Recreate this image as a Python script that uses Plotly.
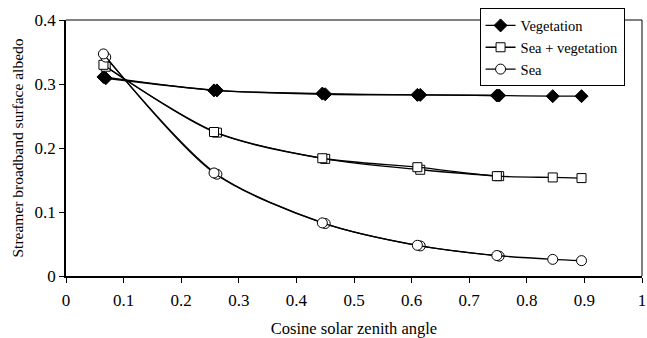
import plotly.graph_objects as go

# Cosine of solar zenith angle (two overlapping sample sets)
mu_a = [0.065, 0.257, 0.445, 0.610, 0.748, 0.845, 0.895]
mu_b = [0.069, 0.262, 0.450, 0.615, 0.752]

# Streamer broadband surface albedo
veg_a = [0.311, 0.290, 0.285, 0.283, 0.282, 0.281, 0.281]
veg_b = [0.309, 0.290, 0.284, 0.283, 0.282]
seaveg_a = [0.330, 0.225, 0.184, 0.170, 0.156, 0.154, 0.153]
seaveg_b = [0.327, 0.224, 0.183, 0.166, 0.156]
sea_a = [0.347, 0.161, 0.083, 0.048, 0.032, 0.026, 0.024]
sea_b = [0.342, 0.159, 0.082, 0.047, 0.031]

x_ticks = [0, 0.1, 0.2, 0.3, 0.4, 0.5, 0.6, 0.7, 0.8, 0.9, 1]
x_tick_text = ["0", "0.1", "0.2", "0.3", "0.4", "0.5", "0.6", "0.7", "0.8", "0.9", "1"]
y_ticks = [0, 0.1, 0.2, 0.3, 0.4]
y_tick_text = ["0", "0.1", "0.2", "0.3", "0.4"]

FONT = "Liberation Serif"

series = [
    ("Vegetation", veg_a, veg_b, dict(symbol="diamond", size=10, color="black",
                                      line=dict(color="black", width=1))),
    ("Sea + vegetation", seaveg_a, seaveg_b, dict(symbol="square", size=9, color="white",
                                                  line=dict(color="black", width=1))),
    ("Sea", sea_a, sea_b, dict(symbol="circle", size=10, color="white",
                               line=dict(color="black", width=1))),
]

fig = go.Figure()
for name, ya, yb, marker in series:
    fig.add_trace(go.Scatter(
        x=mu_b, y=yb, mode="lines+markers", showlegend=False,
        line=dict(color="black", width=1.3, shape="spline", smoothing=0.8),
        marker=marker, hoverinfo="skip",
    ))
    fig.add_trace(go.Scatter(
        x=mu_a, y=ya, mode="lines+markers", name=name,
        line=dict(color="black", width=1.3, shape="spline", smoothing=0.8),
        marker=marker,
    ))

fig.update_layout(
    width=647, height=338,
    margin=dict(l=66, r=5, t=20, b=62),
    paper_bgcolor="white", plot_bgcolor="white",
    font=dict(family=FONT, size=15, color="black"),
    showlegend=True,
    legend=dict(
        x=0.718, y=1.045, xanchor="left", yanchor="top",
        bgcolor="white", bordercolor="black", borderwidth=1,
        font=dict(family=FONT, size=14.5, color="black"),
        tracegroupgap=0, itemwidth=30,
    ),
    xaxis=dict(
        range=[0, 1], tickvals=x_ticks, ticktext=x_tick_text,
        showgrid=False, zeroline=False, automargin=False,
        showline=True, linecolor="black", linewidth=1.5,
        ticks="outside", ticklen=5, tickcolor="black", tickwidth=1,
        tickfont=dict(family=FONT, size=17), ticklabeloverflow="allow",
        ticklabelstandoff=3,
        title=dict(text="Cosine solar zenith angle", font=dict(family=FONT, size=16.5), standoff=15),
    ),
    yaxis=dict(
        range=[0, 0.4], tickvals=y_ticks, ticktext=y_tick_text,
        showgrid=False, zeroline=False, automargin=False,
        showline=True, linecolor="black", linewidth=1.5,
        ticks="outside", ticklen=5, tickcolor="black", tickwidth=1,
        tickfont=dict(family=FONT, size=17),
        title=dict(text="Streamer broadband surface albedo", font=dict(family=FONT, size=15.5), standoff=7),
    ),
    shapes=[
        dict(type="line", xref="paper", yref="paper", x0=0, x1=1, y0=1, y1=1,
             line=dict(color="black", width=1), layer="below"),
        dict(type="line", xref="paper", yref="paper", x0=1, x1=1, y0=0, y1=1,
             line=dict(color="black", width=1), layer="below"),
    ],
)

fig.write_html("out.html")
